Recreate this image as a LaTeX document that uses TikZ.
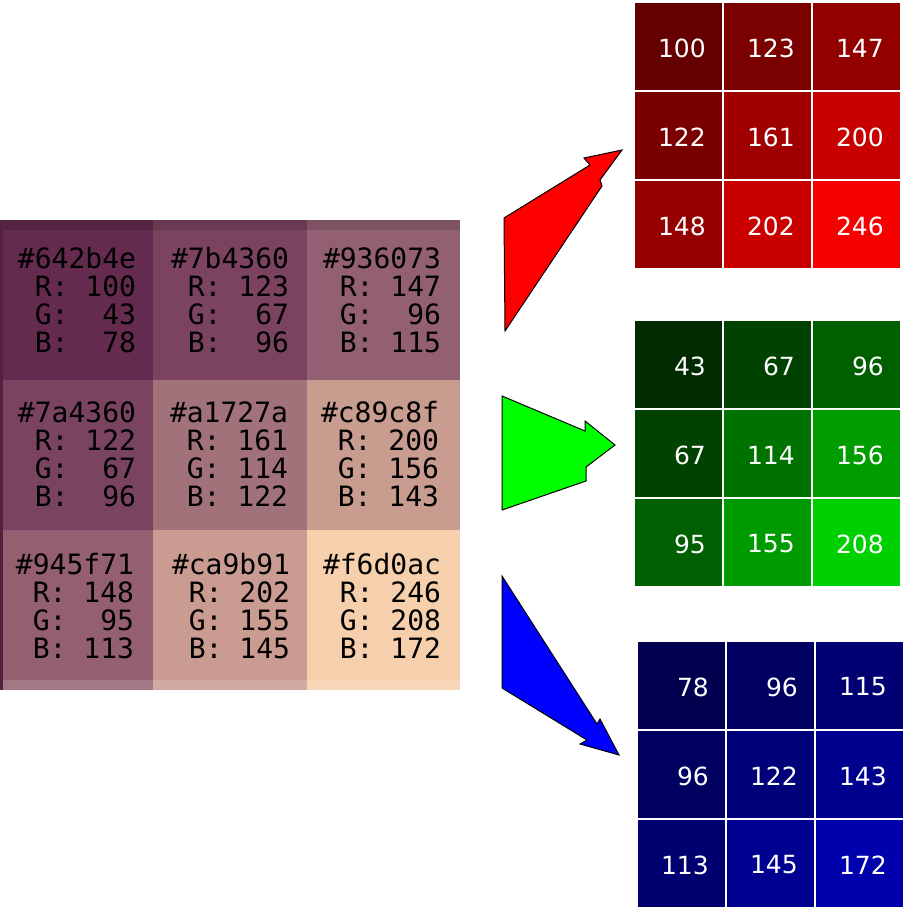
\documentclass[tikz,border=0pt]{standalone}
\usepackage{fontspec}
\setmainfont{DejaVu Sans}
\setmonofont{DejaVu Sans Mono}
\definecolor{cc0}{HTML}{642b4e}
\definecolor{cc1}{HTML}{7b4360}
\definecolor{cc2}{HTML}{936073}
\definecolor{cc3}{HTML}{7a4360}
\definecolor{cc4}{HTML}{a1727a}
\definecolor{cc5}{HTML}{c89c8f}
\definecolor{cc6}{HTML}{945f71}
\definecolor{cc7}{HTML}{ca9b91}
\definecolor{cc8}{HTML}{f6d0ac}
\begin{document}
\begin{tikzpicture}[x=1pt,y=-1pt,
  cellt/.style={font=\ttfamily\fontsize{28}{28}\selectfont, align=right, inner sep=0pt},
  num/.style={font=\fontsize{25}{25}\selectfont, text=white, anchor=east, inner sep=0pt},
  arr/.style={draw=black, line width=1pt, line join=miter}]
\useasboundingbox (0,0) rectangle (905,909);
% left grid
\def\cw{153.3}\def\ch{150}
\foreach \i in {0,...,8}{
  \pgfmathtruncatemacro\c{mod(\i,3)}\pgfmathtruncatemacro\r{div(\i,3)}
  \fill[cc\i] ({\c*\cw},{230+\r*\ch}) rectangle ({(\c+1)*\cw},{230+(\r+1)*\ch});
}
\fill[cc0!85!black] (0,220) rectangle (153.3,230);
\fill[cc1!85!black] (153.3,220) rectangle (306.6,230);
\fill[cc2!85!black] (306.6,220) rectangle (460,230);
\fill[cc6!85!white] (0,680) rectangle (153.3,690);
\fill[cc7!85!white] (153.3,680) rectangle (306.6,690);
\fill[cc8!85!white] (306.6,680) rectangle (460,690);
\fill[cc0!80!black] (0,220) rectangle (3,690);
\node[cellt] (l1) at (77,300) {\#642b4e\\R:~100\\G:~~43\\B:~~78};
\node[cellt] (l2) at (230,300) {\#7b4360\\R:~123\\G:~~67\\B:~~96};
\node[cellt] (l3) at (382,300) {\#936073\\R:~147\\G:~~96\\B:~115};
\node[cellt] (l4) at (77,454) {\#7a4360\\R:~122\\G:~~67\\B:~~96};
\node[cellt] (l5) at (229,454) {\#a1727a\\R:~161\\G:~114\\B:~122};
\node[cellt] (l6) at (380,454) {\#c89c8f\\R:~200\\G:~156\\B:~143};
\node[cellt] (l7) at (75,606) {\#945f71\\R:~148\\G:~~95\\B:~113};
\node[cellt] (l8) at (231,606) {\#ca9b91\\R:~202\\G:~155\\B:~145};
\node[cellt] (l9) at (382,606) {\#f6d0ac\\R:~246\\G:~208\\B:~172};
% right grids
\foreach \x/\y/\ch/\vals in {634/2/r/{100,123,147,122,161,200,148,202,246},
                            634/320/g/{43,67,96,67,114,156,95,155,208},
                            637/641/b/{78,96,115,96,122,143,113,145,172}}{
  \foreach \v [count=\i from 0] in \vals {
    \pgfmathtruncatemacro\c{mod(\i,3)}\pgfmathtruncatemacro\r{div(\i,3)}
    \if r\ch \definecolor{tc}{RGB}{\v,0,0}\fi
    \if g\ch \definecolor{tc}{RGB}{0,\v,0}\fi
    \if b\ch \definecolor{tc}{RGB}{0,0,\v}\fi
    \fill[tc, draw=white, line width=1.5pt] ({\x+\c*89},{\y+\r*89}) rectangle ({\x+(\c+1)*89},{\y+(\r+1)*89});
    \node[num] at ({\x+(\c+1)*89-17},{\y+\r*89+46}) {\v};
  }
}
% arrows
\fill[red, arr] (504,218) -- (590,165) -- (584,158) -- (622,150) -- (600,180) -- (602,186) -- (505,331) -- cycle;
\fill[green, arr] (502,396) -- (585,431) -- (585,421) -- (615,445) -- (586,467) -- (586,481) -- (502,510) -- cycle;
\fill[blue, arr] (502,576) -- (597,724) -- (600,719) -- (619,755) -- (580,744) -- (587,740) -- (502,688) -- cycle;
\end{tikzpicture}
\end{document}
